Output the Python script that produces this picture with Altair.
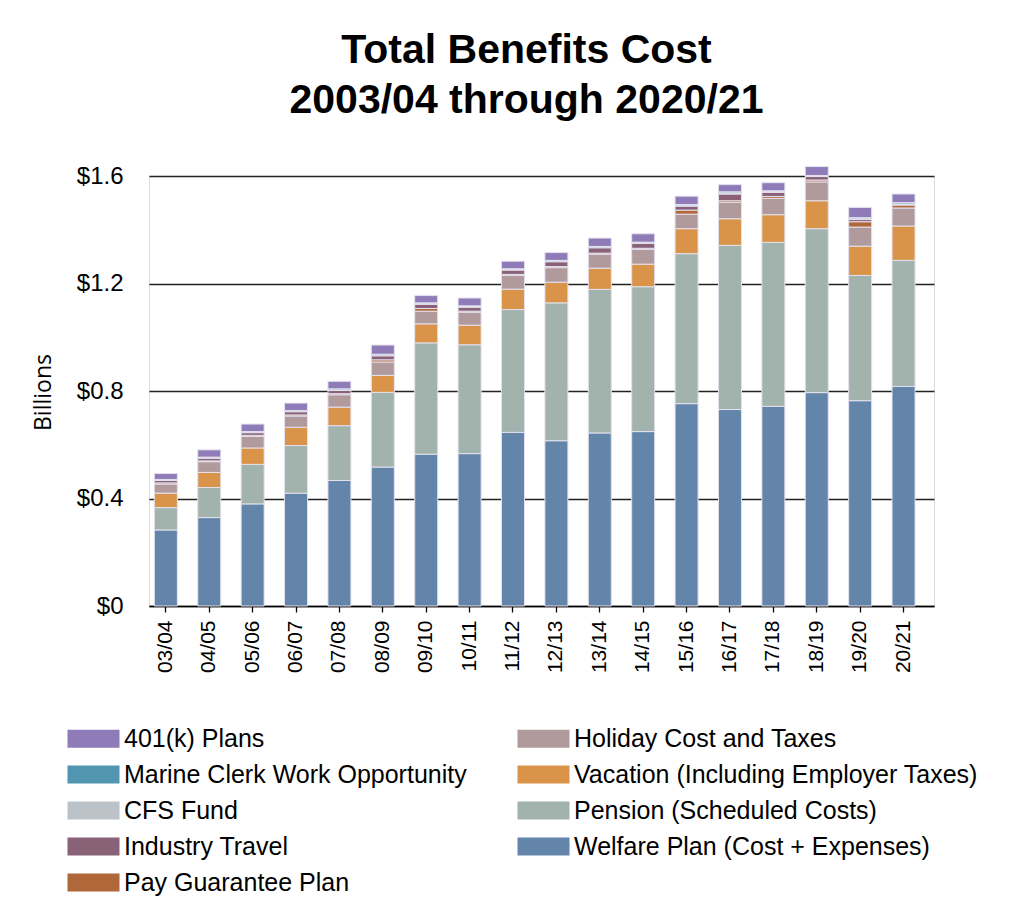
import altair as alt
import pandas as pd

# fiscal years on the x axis
years = ["03/04", "04/05", "05/06", "06/07", "07/08", "08/09", "09/10", "10/11", "11/12",
         "12/13", "13/14", "14/15", "15/16", "16/17", "17/18", "18/19", "19/20", "20/21"]

# cost per benefit, in billions of dollars
welfare = [0.283, 0.329, 0.380, 0.420, 0.467, 0.517, 0.565, 0.567, 0.646,
           0.615, 0.644, 0.649, 0.753, 0.731, 0.743, 0.794, 0.764, 0.817]
pension = [0.083, 0.112, 0.147, 0.177, 0.204, 0.278, 0.414, 0.405, 0.457,
           0.513, 0.534, 0.539, 0.558, 0.611, 0.610, 0.610, 0.466, 0.469]
vacation = [0.054, 0.056, 0.061, 0.068, 0.069, 0.063, 0.071, 0.073, 0.076,
            0.077, 0.079, 0.084, 0.093, 0.099, 0.103, 0.104, 0.109, 0.128]
holiday = [0.034, 0.040, 0.043, 0.042, 0.046, 0.050, 0.047, 0.048, 0.051,
           0.054, 0.052, 0.055, 0.054, 0.061, 0.061, 0.070, 0.071, 0.067]
pay_guarantee = [0.004, 0.003, 0.004, 0.004, 0.004, 0.008, 0.010, 0.004, 0.004,
                 0.004, 0.004, 0.004, 0.015, 0.006, 0.007, 0.007, 0.020, 0.011]
industry_travel = [0.009, 0.010, 0.010, 0.012, 0.012, 0.015, 0.016, 0.015, 0.016,
                   0.018, 0.020, 0.018, 0.015, 0.025, 0.015, 0.013, 0.008, 0.002]
cfs_fund = [0.002, 0.002, 0.002, 0.002, 0.002, 0.002, 0.002, 0.002, 0.002,
            0.002, 0.002, 0.002, 0.003, 0.004, 0.003, 0.002, 0.003, 0.002]
marine_clerk = [0.002, 0.002, 0.002, 0.002, 0.004, 0.004, 0.003, 0.003, 0.003,
                0.003, 0.003, 0.003, 0.003, 0.004, 0.003, 0.002, 0.004, 0.005]
k401 = [0.022, 0.027, 0.028, 0.028, 0.028, 0.034, 0.027, 0.029, 0.028,
        0.029, 0.031, 0.031, 0.031, 0.027, 0.030, 0.033, 0.038, 0.032]

# bottom -> top stacking order
stack_names = ["Welfare Plan (Cost + Expenses)", "Pension (Scheduled Costs)",
               "Vacation (Including Employer Taxes)", "Holiday Cost and Taxes",
               "Pay Guarantee Plan", "Industry Travel", "CFS Fund",
               "Marine Clerk Work Opportunity", "401(k) Plans"]
stack_values = [welfare, pension, vacation, holiday, pay_guarantee,
                industry_travel, cfs_fund, marine_clerk, k401]

series_colors = {
    "401(k) Plans": "#8E7BB7",
    "Marine Clerk Work Opportunity": "#5195B0",
    "CFS Fund": "#BBC3C8",
    "Industry Travel": "#8A6277",
    "Pay Guarantee Plan": "#B0683A",
    "Holiday Cost and Taxes": "#B19A9C",
    "Vacation (Including Employer Taxes)": "#D99449",
    "Pension (Scheduled Costs)": "#A2B2AD",
    "Welfare Plan (Cost + Expenses)": "#6385AA",
}

# legend reads top of the stack first, filling the left column then the right
legend_order = stack_names[::-1]

rows = []
for rank, (name, vals) in enumerate(zip(stack_names, stack_values)):
    for year, v in zip(years, vals):
        rows.append({"year": year, "series": name, "cost": v, "rank": rank})
df = pd.DataFrame(rows)

FONT = "Liberation Sans"

chart = alt.Chart(df).mark_bar(stroke="#e4e1ee", strokeWidth=1).encode(
    x=alt.X("year:N", sort=years,
            scale=alt.Scale(paddingInner=0.47, paddingOuter=0.28, align=0.22),
            axis=alt.Axis(title=None, labelAngle=270, labelFontSize=21, labelFont=FONT,
                          labelColor="black", domainColor="black", domainWidth=1.3,
                          tickColor="black", tickWidth=1.3, tickSize=6, labelPadding=8)),
    y=alt.Y("cost:Q", stack="zero",
            scale=alt.Scale(domain=[0, 1.6], nice=False),
            axis=alt.Axis(values=[0, 0.4, 0.8, 1.2, 1.6],
                          labelExpr="'$' + format(datum.value, '.1~f')",
                          labelFontSize=24, labelFont=FONT, labelColor="black",
                          labelPadding=26, domain=False, ticks=False,
                          grid=True, gridColor="#222222", gridWidth=1.3,
                          title="Billions", titleFont="Open Sans", titleFontSize=23,
                          titleFontWeight="normal", titleColor="black",
                          titleX=-106, titleY=216, titleAlign="center",
                          titleBaseline="middle")),
    color=alt.Color("series:N",
                    scale=alt.Scale(domain=legend_order,
                                    range=[series_colors[n] for n in legend_order]),
                    legend=alt.Legend(title=None, orient="none", legendX=-68, legendY=550,
                                      columns=2, padding=0,
                                      symbolType="M-2.6,-0.9L2.6,-0.9L2.6,0.9L-2.6,0.9Z",
                                      symbolSize=400, symbolStrokeWidth=0,
                                      symbolOpacity=1, labelFontSize=25, labelFont=FONT,
                                      labelColor="black", labelOffset=18, labelLimit=600,
                                      rowPadding=10, columnPadding=50)),
    order=alt.Order("rank:Q", sort="ascending"),
).properties(
    width=785,
    height=430,
    autosize="none",
    padding={"left": 141, "top": 168, "right": 70, "bottom": 310},
    title=alt.TitleParams(text=["Total Benefits Cost", "2003/04 through 2020/21"],
                          font=FONT, fontSize=41, fontWeight="bold", color="black",
                          anchor="middle", frame="group", offset=42, dx=-15,
                          lineHeight=50),
).configure_view(stroke=None).configure(background="white")

chart.save("out.html", embed_options={"renderer": "svg", "actions": False})
